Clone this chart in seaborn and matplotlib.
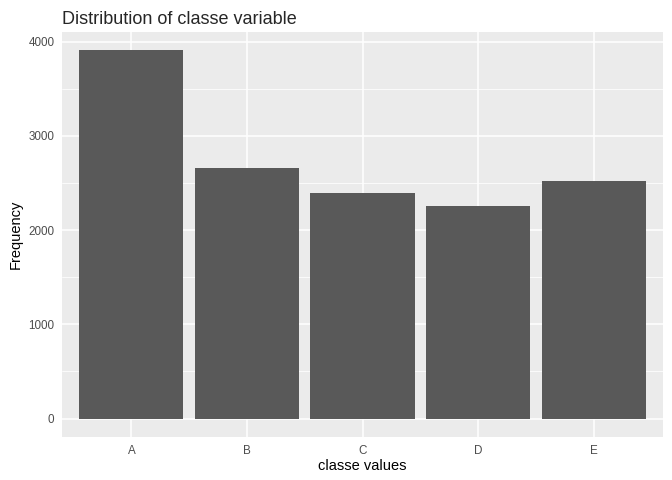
import matplotlib
matplotlib.use("Agg")
import matplotlib.pyplot as plt
import seaborn as sns
import numpy as np
import pandas as pd

# class counts for the classe variable
classes = ["A", "B", "C", "D", "E"]
counts = [3906, 2658, 2396, 2252, 2525]
y_ticks = [0, 1000, 2000, 3000, 4000]
y_minor = [500, 1500, 2500, 3500]

df = pd.DataFrame({"classe": classes, "Frequency": counts})

sns.set_style("darkgrid", {"axes.facecolor": "#EBEBEB", "grid.color": "white"})
plt.rcParams["font.family"] = ["Liberation Sans", "DejaVu Sans"]

fig = plt.figure(figsize=(6.72, 4.8), dpi=100)
ax = fig.add_axes([62 / 672, 1 - 437 / 480, (663 - 62) / 672, (437 - 32) / 480])

sns.barplot(data=df, x="classe", y="Frequency", color="#595959", width=0.9,
            saturation=1, linewidth=0, edgecolor="none", ax=ax, zorder=3)

ymax = max(counts)
ax.set_ylim(-0.05 * ymax, 1.05 * ymax)
ax.set_xlim(-0.6, len(classes) - 0.4)
ax.set_yticks(y_ticks)
ax.set_yticks(y_minor, minor=True)
ax.grid(True, which="major", color="white", linewidth=1.1, zorder=0)
ax.grid(True, which="minor", axis="y", color="white", linewidth=0.55, zorder=0)
ax.set_axisbelow(True)
for s in ax.spines.values():
    s.set_visible(False)

ax.tick_params(axis="both", which="major", length=3.5, width=0.8, color="#333333",
               labelcolor="#4D4D4D", labelsize=8.4, pad=2)
ax.tick_params(axis="both", which="minor", length=0)
ax.set_xlabel("classe values", fontsize=10.5, color="black", labelpad=2)
ax.set_ylabel("Frequency", fontsize=10.5, color="black", labelpad=4)
ax.set_title("Distribution of classe variable", fontsize=13, loc="left", pad=6)

fig.savefig("out.png", dpi=100)
